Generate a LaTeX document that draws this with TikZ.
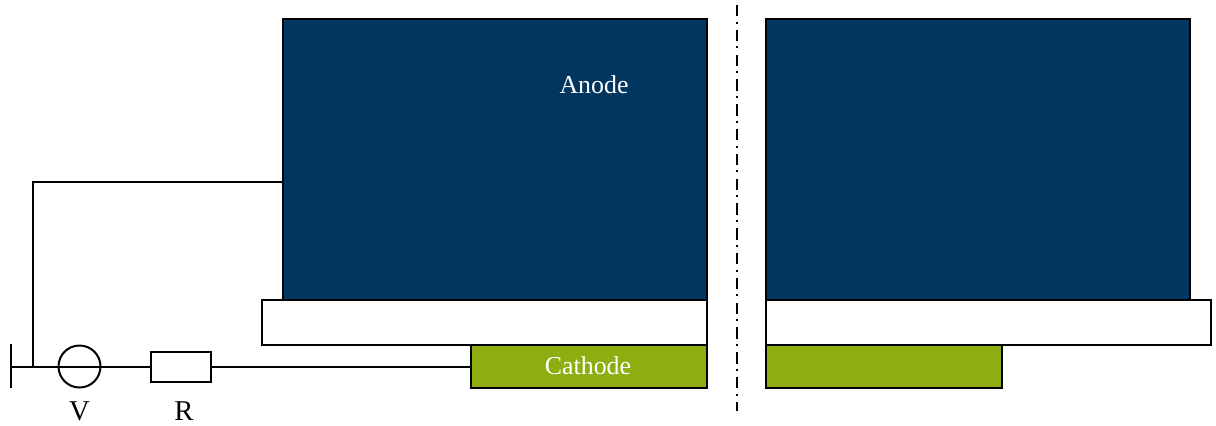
\documentclass[tikz,border=0pt]{standalone}
\usepackage{fontspec}
\setmainfont{Liberation Serif}
\definecolor{anodeblue}{HTML}{003660}
\definecolor{cathgreen}{HTML}{8EAD10}
\tikzset{
  ln/.style={line width=1.5pt,black},
  block/.style={ln,draw,rectangle,inner sep=0pt,outer sep=0pt},
  anodebox/.style={block,fill=anodeblue,minimum width=318pt,minimum height=210.75pt},
  sepbox/.style={block,fill=white,minimum width=333.75pt,minimum height=33.75pt},
  cathbox/.style={block,fill=cathgreen,minimum width=177pt,minimum height=32.25pt},
  resbox/.style={block,fill=white,minimum width=45pt,minimum height=22.5pt},
  source/.style={ln,draw,circle,inner sep=0pt,outer sep=0pt,minimum size=31.5pt},
  lbl/.style={font=\fontsize{19.4pt}{22pt}\selectfont,inner sep=0pt},
  biglbl/.style={font=\fontsize{21.5pt}{24pt}\selectfont,inner sep=0pt},
  axisline/.style={line width=1.5pt,black,dash pattern=on 8.6pt off 3.8pt on 1.5pt off 4.7pt}
}
\begin{document}
\begin{tikzpicture}[x=0.75pt,y=-0.75pt]
\useasboundingbox (0,0) rectangle (1216,425);
\fill[white] (0,0) rectangle (1216,425);
\node[anodebox] (anodeL) at (495,159.5) {};
\node[anodebox] (anodeR) at (978,159.5) {};
\node[sepbox] (sepL) at (484.5,322.5) {};
\node[sepbox] (sepR) at (988.5,322.5) {};
\node[cathbox] (cathL) at (589,366.5) {};
\node[cathbox] (cathR) at (884,366.5) {};
\node[lbl,text=white] (anodeT) at (594,85) {Anode};
\node[lbl,text=white] (cathT) at (588,366) {Cathode};
\coordinate (axisTop) at (736.5,5);
\coordinate (axisBot) at (736.5,411);
\draw[axisline] (axisTop) -- (axisBot);
\coordinate (gnd) at (11,366.5);
\coordinate (gndTop) at (11,344);
\coordinate (gndBot) at (11,388);
\coordinate (junction) at (33,366.5);
\coordinate (anodeTap) at (283,182);
\node[resbox] (res) at (181,366.5) {};
\node[source] (src) at (79.5,366.5) {};
\node[biglbl] (vT) at (79.5,411.5) {V};
\node[biglbl] (rT) at (184,411) {R};
\draw[ln] (gndTop) -- (gndBot);
\draw[ln] (gnd) -- (res.west);
\draw[ln] (res.east) -- (cathL.west);
\draw[ln] (junction) |- (anodeTap);
\end{tikzpicture}
\end{document}
